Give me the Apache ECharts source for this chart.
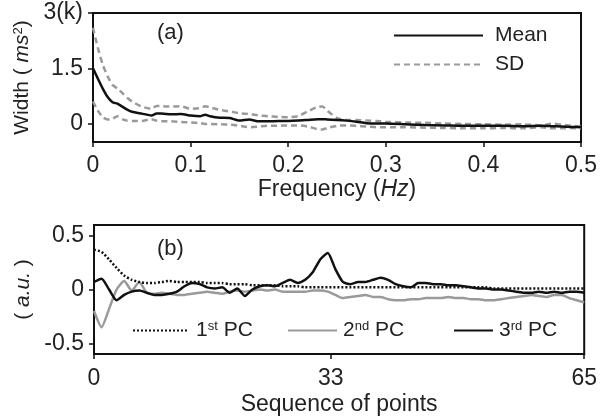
<!DOCTYPE html>
<html>
<head>
<meta charset="utf-8">
<script src="https://cdn.jsdelivr.net/npm/echarts@6/dist/echarts.min.js"></script>
<style>html,body{margin:0;padding:0;background:#fff;}#c{width:600px;height:417px;}</style>
</head>
<body>
<div id="c"></div>
<script>
// ---------- Panel (a) data ----------
var freq = [0,0.005,0.01,0.015,0.02,0.025,0.03,0.035,0.04,0.05,0.06,0.065,0.07,0.08,0.09,0.1,0.11,0.115,0.12,0.13,0.14,0.15,0.16,0.17,0.18,0.19,0.2,0.21,0.22,0.23,0.235,0.24,0.25,0.26,0.27,0.28,0.29,0.3,0.32,0.34,0.36,0.38,0.4,0.42,0.44,0.46,0.47,0.48,0.49,0.5];
var meanW = [1.5,1.22,0.95,0.72,0.58,0.54,0.46,0.38,0.32,0.27,0.22,0.27,0.27,0.25,0.26,0.22,0.20,0.24,0.20,0.16,0.15,0.08,0.11,0.06,0.06,0.07,0.07,0.08,0.10,0.12,0.12,0.11,0.10,0.08,0.05,0.01,0.00,0.00,-0.02,-0.04,-0.05,-0.06,-0.06,-0.06,-0.07,-0.06,-0.07,-0.08,-0.09,-0.10];
var sdUpper = [2.6,2.05,1.6,1.28,1.05,0.95,0.83,0.70,0.60,0.46,0.40,0.48,0.47,0.46,0.47,0.40,0.42,0.47,0.44,0.37,0.33,0.28,0.26,0.22,0.20,0.18,0.17,0.20,0.33,0.45,0.46,0.35,0.15,0.10,0.10,0.08,0.07,0.05,0.03,0.02,0.00,-0.01,-0.02,-0.03,-0.02,-0.05,0.00,-0.03,-0.06,-0.08];
var sdLower = [0.60,0.35,0.17,0.11,0.13,0.20,0.12,0.08,0.07,0.07,0.12,0.08,0.06,0.06,0.04,0.03,0.01,-0.01,-0.01,-0.02,-0.03,-0.06,-0.10,-0.08,-0.06,-0.06,-0.05,-0.05,-0.08,-0.15,-0.16,-0.12,-0.06,-0.05,-0.06,-0.08,-0.10,-0.10,-0.10,-0.11,-0.12,-0.13,-0.13,-0.12,-0.13,-0.10,-0.13,-0.13,-0.12,-0.13];
var yTicksA = [0, 1.5, 3];
var yTickLabelsA = ['0', '1.5', '3(k)'];

// ---------- Panel (b) data ----------
var seqIdx = [0,1,2,3,4,5,6,7,8,9,10,11,12,13,14,15,16,17,18,19,20,21,22,23,24,25,26,27,28,29,30,31,32,33,34,35,36,37,38,39,40,41,42,43,44,45,46,47,48,49,50,51,52,53,54,55,56,57,58,59,60,61,62,63,64,65];
var pc1 = [0.37,0.35,0.28,0.20,0.13,0.09,0.07,0.06,0.06,0.07,0.08,0.07,0.07,0.07,0.07,0.06,0.06,0.06,0.05,0.05,0.05,0.04,0.04,0.04,0.04,0.03,0.03,0.03,0.02,0.02,0.02,0.02,0.02,0.02,0.02,0.02,0.02,0.02,0.02,0.02,0.02,0.02,0.02,0.02,0.02,0.02,0.02,0.02,0.02,0.02,0.02,0.02,0.02,0.01,0.01,0.01,0.01,0.01,0.01,0.01,0.01,0.01,0.01,0.01,0.01,0.01];
var pc2 = [-0.20,-0.35,-0.18,0.00,0.08,-0.01,0.07,-0.03,-0.04,-0.03,-0.04,-0.05,-0.05,-0.04,-0.03,-0.02,-0.03,-0.04,-0.02,-0.01,-0.02,-0.01,0.00,-0.01,0.00,-0.02,-0.02,-0.02,-0.02,-0.01,-0.01,-0.02,-0.05,-0.08,-0.07,-0.06,-0.05,-0.07,-0.07,-0.09,-0.10,-0.10,-0.09,-0.09,-0.08,-0.08,-0.08,-0.07,-0.08,-0.08,-0.09,-0.09,-0.10,-0.10,-0.09,-0.08,-0.07,-0.06,-0.05,-0.06,-0.07,-0.05,-0.05,-0.08,-0.10,-0.12];
var pc3 = [0.07,0.10,0.00,-0.10,-0.05,-0.02,-0.01,-0.03,-0.05,-0.05,-0.04,-0.02,0.03,0.06,0.05,0.02,0.01,0.02,-0.03,0.01,-0.06,0.00,0.03,0.04,0.03,0.06,0.09,0.06,0.09,0.16,0.28,0.34,0.19,0.07,0.05,0.07,0.07,0.09,0.11,0.09,0.05,0.03,0.02,0.06,0.06,0.05,0.05,0.04,0.04,0.03,0.02,0.01,0.01,0.00,0.00,-0.01,-0.02,-0.03,-0.03,-0.02,-0.03,-0.02,-0.03,-0.02,-0.02,-0.03];
var xTicksB = [0, 31.4, 65];
var xTickLabelsB = ['0', '33', '65'];
var yTicksB = [-0.5, 0, 0.5];
var yTickLabelsB = ['-0.5', '0', '0.5'];

function pairs(xs, ys){ return xs.map(function(x,i){ return [x, ys[i]]; }); }

var FONT = "'Liberation Sans', Arial, sans-serif";
var TXT = '#222';
var FS = 21;   // legend / y names
var FA = 23;   // tick labels and x-axis names
var BLACK = '#111';
var GRAY = '#9a9a9a';

var axisLineStyle = {show:true, onZero:false, lineStyle:{color:BLACK, width:2}};
var tickStyle = {show:true, length:5, lineStyle:{color:BLACK, width:1.5}};
var labelBase = {color:TXT, fontSize:FA, fontFamily:FONT};
var supRich = {s:{fontSize:13, color:TXT, fontFamily:FONT, verticalAlign:'top'}};
var hideSym = {opacity:0};

var chart = echarts.init(document.getElementById('c'), null, {renderer:'canvas'});
chart.setOption({
  animation:false,
  backgroundColor:'#fff',
  textStyle:{fontFamily:FONT},
  grid:[
    {left:93, right:14, top:13, height:129, show:true, borderColor:BLACK, borderWidth:2, containLabel:false},
    {left:94, right:14, top:225, height:129, show:true, borderColor:BLACK, borderWidth:2, containLabel:false}
  ],
  xAxis:[
    {type:'value', gridIndex:0, min:0, max:0.5, interval:0.1,
     axisLine:axisLineStyle, axisTick:tickStyle, splitLine:{show:false},
     axisLabel:Object.assign({margin:12}, labelBase),
     name:'Frequency ({i|Hz})', nameLocation:'middle', nameGap:32,
     nameTextStyle:{color:TXT, fontSize:FA, fontFamily:FONT, rich:{i:{fontStyle:'italic', fontSize:FA, color:TXT, fontFamily:FONT}}}},
    {type:'value', gridIndex:1, min:0, max:65,
     axisLine:axisLineStyle, splitLine:{show:false},
     axisTick:Object.assign({customValues:xTicksB}, tickStyle),
     axisLabel:Object.assign({margin:13, customValues:xTicksB, formatter:function(v){ var i=xTicksB.indexOf(v); return i>=0?xTickLabelsB[i]:''; }}, labelBase),
     name:'Sequence of points', nameLocation:'middle', nameGap:39,
     nameTextStyle:{color:TXT, fontSize:FA, fontFamily:FONT}}
  ],
  yAxis:[
    {type:'value', gridIndex:0, min:-0.5, max:3,
     axisLine:axisLineStyle, splitLine:{show:false},
     axisTick:Object.assign({customValues:yTicksA}, tickStyle),
     axisLabel:Object.assign({margin:10, customValues:yTicksA, formatter:function(v){ var i=yTicksA.indexOf(v); return i>=0?yTickLabelsA[i]:''; }}, labelBase),
     name:'Width ( {i|ms}{s|2})', nameLocation:'middle', nameGap:60,
     nameTextStyle:{color:TXT, fontSize:FS, fontFamily:FONT, rich:{i:{fontStyle:'italic', fontSize:FS, color:TXT, fontFamily:FONT}, s:{fontSize:13, color:TXT, fontFamily:FONT, verticalAlign:'top'}}}},
    {type:'value', gridIndex:1, min:-0.6, max:0.6,
     axisLine:axisLineStyle, splitLine:{show:false},
     axisTick:Object.assign({customValues:yTicksB}, tickStyle),
     axisLabel:Object.assign({margin:10, customValues:yTicksB, formatter:function(v){ var i=yTicksB.indexOf(v); return i>=0?yTickLabelsB[i]:''; }}, labelBase),
     name:'( {i|a.u.} )', nameLocation:'middle', nameGap:58,
     nameTextStyle:{color:TXT, fontSize:FS, fontFamily:FONT, rich:{i:{fontStyle:'italic', fontSize:FS, color:TXT, fontFamily:FONT}}}}
  ],
  legend:[
    {data:['Mean','SD'], orient:'vertical', left:393, top:25, padding:0, itemWidth:89, itemHeight:20, itemGap:8, itemStyle:hideSym,
     textStyle:{color:TXT, fontSize:FS, fontFamily:FONT, padding:[0,0,0,7]}},
    {data:['1st PC'], left:132, top:320, padding:0, itemWidth:55, itemHeight:20, itemStyle:hideSym,
     formatter:function(){ return '1{s|st} PC'; },
     textStyle:{color:TXT, fontSize:FS, fontFamily:FONT, padding:[0,0,0,3], rich:supRich}},
    {data:['2nd PC'], left:287, top:320, padding:0, itemWidth:49, itemHeight:20, itemStyle:hideSym,
     formatter:function(){ return '2{s|nd} PC'; },
     textStyle:{color:TXT, fontSize:FS, fontFamily:FONT, padding:[0,0,0,1], rich:supRich}},
    {data:['3rd PC'], left:453, top:320, padding:0, itemWidth:39, itemHeight:20, itemStyle:hideSym,
     formatter:function(){ return '3{s|rd} PC'; },
     textStyle:{color:TXT, fontSize:FS, fontFamily:FONT, padding:[0,0,0,1], rich:supRich}}
  ],
  graphic:[
    {type:'text', left:157, top:22, style:{text:'(a)', fill:TXT, font:'22px '+FONT}},
    {type:'text', left:157, top:238, style:{text:'(b)', fill:TXT, font:'22px '+FONT}}
  ],
  series:[
    {name:'SD', type:'line', xAxisIndex:0, yAxisIndex:0, data:pairs(freq, sdUpper), showSymbol:false, symbol:'none', smooth:0.2,
     lineStyle:{color:GRAY, width:2.5, type:[6,4]}, itemStyle:{color:GRAY}},
    {name:'SD', type:'line', xAxisIndex:0, yAxisIndex:0, data:pairs(freq, sdLower), showSymbol:false, symbol:'none', smooth:0.2,
     lineStyle:{color:GRAY, width:2.5, type:[6,4]}, itemStyle:{color:GRAY}},
    {name:'Mean', type:'line', xAxisIndex:0, yAxisIndex:0, data:pairs(freq, meanW), showSymbol:false, symbol:'none', smooth:0.2,
     lineStyle:{color:BLACK, width:2.5}, itemStyle:{color:BLACK}},
    {name:'2nd PC', type:'line', xAxisIndex:1, yAxisIndex:1, data:pairs(seqIdx, pc2), showSymbol:false, symbol:'none', smooth:0.2,
     lineStyle:{color:GRAY, width:2.5}, itemStyle:{color:GRAY}},
    {name:'1st PC', type:'line', xAxisIndex:1, yAxisIndex:1, data:pairs(seqIdx, pc1), showSymbol:false, symbol:'none', smooth:0.2,
     lineStyle:{color:BLACK, width:2.5, type:[2,2]}, itemStyle:{color:BLACK}},
    {name:'3rd PC', type:'line', xAxisIndex:1, yAxisIndex:1, data:pairs(seqIdx, pc3), showSymbol:false, symbol:'none', smooth:0.2,
     lineStyle:{color:BLACK, width:2.5}, itemStyle:{color:BLACK}}
  ]
});
</script>
</body>
</html>
